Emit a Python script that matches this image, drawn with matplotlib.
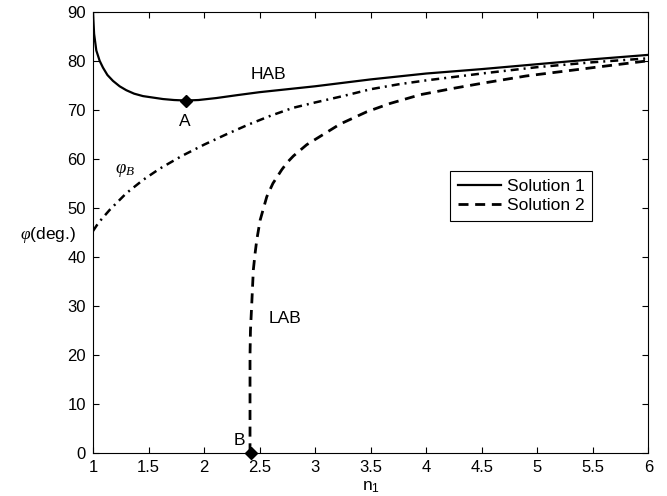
import numpy as np
import matplotlib
matplotlib.use('Agg')
import matplotlib.pyplot as plt

plt.rcParams['font.family'] = ['Liberation Sans', 'DejaVu Sans']
plt.rcParams['mathtext.fontset'] = 'custom'
plt.rcParams['mathtext.rm'] = 'Liberation Sans'
plt.rcParams['mathtext.it'] = 'Liberation Serif:italic'

# Solution 1 (HAB branch)
n_sol1 = [1.0, 1.01, 1.03, 1.06, 1.09, 1.13, 1.18, 1.24, 1.30, 1.37, 1.45, 1.54,
          1.63, 1.73, 1.835, 1.95, 2.11, 2.30, 2.50, 2.75, 3.0, 3.5, 4.0, 4.5,
          5.0, 5.5, 6.0]
phi_sol1 = [90.0, 85.5, 82.1, 80.0, 78.6, 77.1, 75.9, 74.8, 74.0, 73.3, 72.8, 72.5,
            72.2, 72.0, 71.9, 72.0, 72.4, 73.0, 73.6, 74.2, 74.8, 76.2, 77.4, 78.3,
            79.3, 80.3, 81.2]

# Solution 2 (LAB branch)
n_sol2 = [2.414, 2.414, 2.414, 2.418, 2.43, 2.444, 2.46, 2.475, 2.505, 2.565, 2.62,
          2.70, 2.75, 2.805, 2.925, 3.075, 3.225, 3.465, 3.675, 3.95, 4.25, 4.5,
          4.9, 5.5, 6.0]
phi_sol2 = [0.0, 10.0, 20.0, 25.0, 30.6, 37.4, 40.8, 43.5, 47.5, 52.3, 55.0,
            57.8, 59.3, 60.6, 62.9, 65.0, 67.1, 69.6, 71.3, 73.1, 74.4, 75.4,
            76.9, 78.6, 80.0]

# Brewster angle phi_B
n_brew = [1.0, 1.05, 1.15, 1.3, 1.45, 1.6, 1.8, 2.0, 2.2, 2.4, 2.6, 2.8, 3.0,
          3.25, 3.5, 3.75, 4.0, 4.5, 5.0, 5.5, 6.0]
phi_brew = [45.3, 47.0, 49.6, 53.0, 55.7, 58.0, 60.6, 62.9, 65.0, 67.0, 68.8,
            70.4, 71.5, 72.8, 74.2, 75.2, 76.0, 77.4, 78.7, 79.7, 80.5]

# special points
pt_A = (1.835, 71.9)
pt_B = (2.425, 0.0)

xticks = [1, 1.5, 2, 2.5, 3, 3.5, 4, 4.5, 5, 5.5, 6]
xticklabels = ['1', '1.5', '2', '2.5', '3', '3.5', '4', '4.5', '5', '5.5', '6']
yticks = [0, 10, 20, 30, 40, 50, 60, 70, 80, 90]

fs = 12.5

fig = plt.figure(figsize=(6.67, 4.96), dpi=100)
ax = fig.add_axes([0.1394, 0.0861, 0.8325, 0.8903])

ax.plot(n_sol1, phi_sol1, color='black', lw=1.6, label='Solution 1')
ax.plot(n_sol2, phi_sol2, color='black', lw=2.0, dashes=(3.6, 2.4), label='Solution 2')
ax.plot(n_brew, phi_brew, color='black', lw=1.8, dashes=(3.2, 2.0, 0.8, 2.0))
ax.plot(*pt_A, marker='D', ms=6, color='black')
ax.plot(*pt_B, marker='D', ms=6, color='black', clip_on=False)

ax.text(2.58, 77.1, 'HAB', fontsize=fs, ha='center', va='center')
ax.text(1.83, 67.6, 'A', fontsize=fs, ha='center', va='center')
ax.text(2.32, 2.7, 'B', fontsize=fs, ha='center', va='center')
ax.text(2.73, 27.5, 'LAB', fontsize=fs, ha='center', va='center')
ax.text(1.29, 57.7, r'$\varphi_B$', fontsize=13.5, ha='center', va='center')

ax.set_xlim(1, 6)
ax.set_ylim(0, 90)
ax.set_xticks(xticks)
ax.set_xticklabels(xticklabels)
ax.set_yticks(yticks)
ax.tick_params(direction='in', length=4, width=0.8, top=True, right=True,
               labelsize=12, pad=5)
for s in ax.spines.values():
    s.set_linewidth(0.8)

ax.set_xlabel(r'n$_1$', fontsize=fs, labelpad=3)
ax.set_ylabel(r'$\varphi$(deg.)', fontsize=fs, rotation=0, ha='right', va='center')
ax.yaxis.set_label_coords(-0.03, 0.494)

leg = ax.legend(loc='upper left', bbox_to_anchor=(0.675, 0.655),
                bbox_transform=fig.transFigure, borderaxespad=0, fontsize=fs,
                fancybox=False, edgecolor='black', framealpha=1,
                handlelength=2.5, handletextpad=0.3, labelspacing=0.2,
                borderpad=0.45)
leg.get_frame().set_linewidth(0.8)

plt.savefig('out.png', dpi=100)
